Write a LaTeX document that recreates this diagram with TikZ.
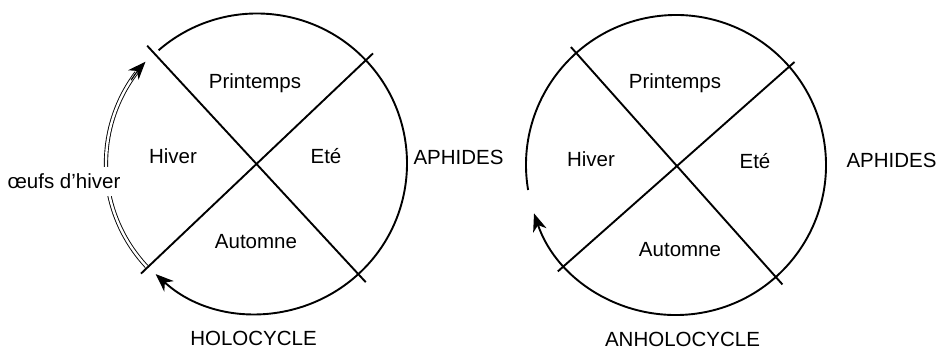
\documentclass[tikz,border=0pt]{standalone}
\usepackage{fontspec}
\setmainfont{Liberation Sans}
\usetikzlibrary{calc,arrows.meta}
\begin{document}
\begin{tikzpicture}[x=1pt,y=1pt,
  lbl/.style={anchor=base,inner sep=0pt,font=\fontsize{20.5}{24}\selectfont},
  ring/.style={line width=1.9pt},
  cross/.style={line width=1.9pt},
  tip/.style={-{Stealth[length=18pt,width=14pt,inset=5.5pt]}}]
\useasboundingbox (0,0) rectangle (939,350);
\coordinate (L) at (257,186.5);
\coordinate (R) at (676,185);
% ---- left circle (holocycle)
\draw[cross] ($(L)+(133:161)$) coordinate (Lnw) -- ($(L)+(312.5:161)$) coordinate (Lse);
\draw[cross] ($(L)+(43.5:160)$) coordinate (Lne) -- ($(L)+(223.5:160)$) coordinate (Lsw);
\draw[ring,tip] ($(L)+(131:150)$) coordinate (La) arc[start angle=131,end angle=-132.5,radius=150];
\draw[line width=0.9pt,double,double distance=2.4pt] ($(L)+(223:151)$) coordinate (Da) arc[start angle=223,end angle=143,radius=151];
\draw[line width=1.2pt,tip] ($(L)+(146.5:151)$) coordinate (Db) arc[start angle=146.5,end angle=137.6,radius=151];
\node[lbl,fill=white,inner xsep=1pt,inner ysep=7pt] (oeufs) at (64,161) {œufs d’hiver};
\node[lbl] (Lprin) at (255,261) {Printemps};
\node[lbl] (Lhiv) at (173,186) {Hiver};
\node[lbl] (Lete) at (326,186) {Eté};
\node[lbl] (Laut) at (256,101) {Automne};
\node[lbl] (Laph) at (458.5,185) {APHIDES};
\node[lbl] (holo) at (253.5,4) {HOLOCYCLE};
% ---- right circle (anholocycle)
\draw[cross] ($(R)+(131.7:158)$) coordinate (Rnw) -- ($(R)+(311.7:160)$) coordinate (Rse);
\draw[cross] ($(R)+(41:157)$) coordinate (Rne) -- ($(R)+(222:159)$) coordinate (Rsw);
\draw[ring,tip] ($(R)+(189.6:150)$) coordinate (Ra) arc[start angle=189.6,end angle=-161.2,radius=150];
\node[lbl] (Rprin) at (675,261) {Printemps};
\node[lbl] (Rhiv) at (591,183) {Hiver};
\node[lbl] (Rete) at (755,181) {Eté};
\node[lbl] (Raut) at (680,93) {Automne};
\node[lbl] (Raph) at (891.5,182) {APHIDES};
\node[lbl] (anholo) at (682.5,3) {ANHOLOCYCLE};
\end{tikzpicture}
\end{document}
